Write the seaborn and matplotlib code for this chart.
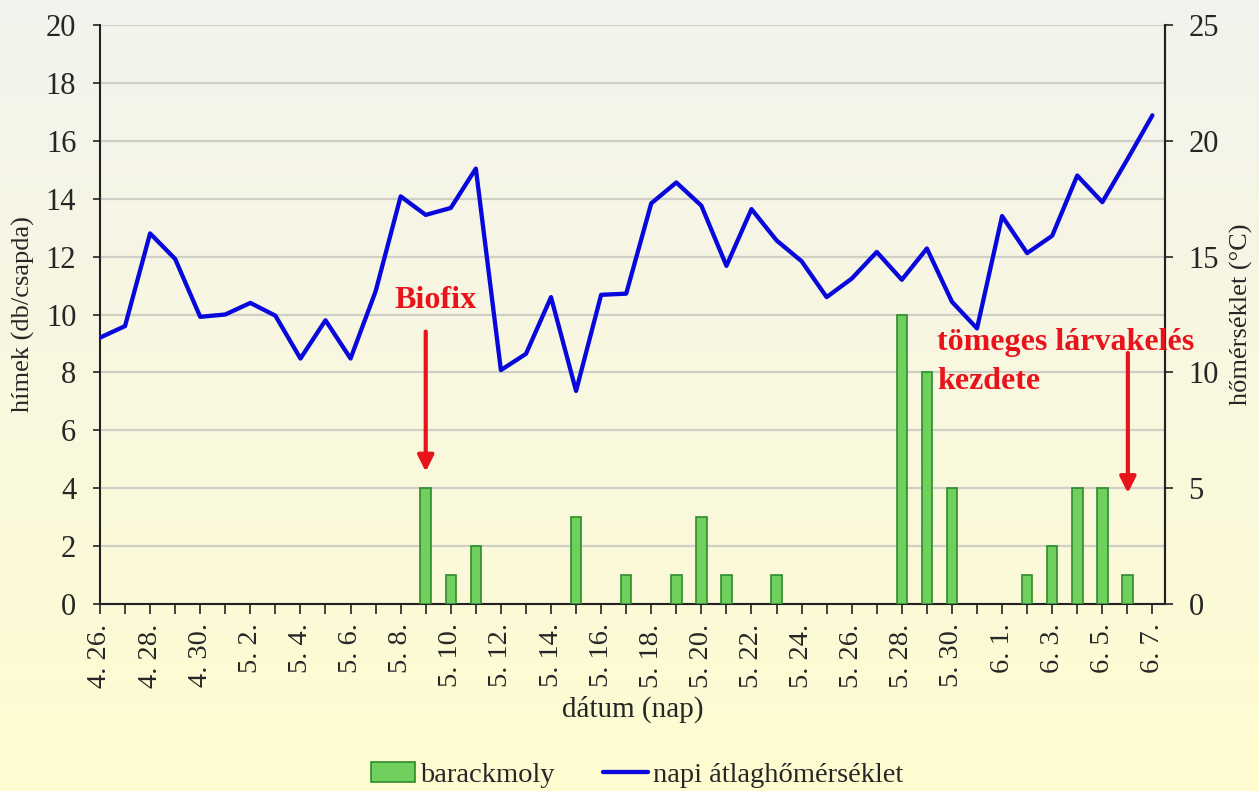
import numpy as np
import pandas as pd
import matplotlib
matplotlib.use("Agg")
import matplotlib.pyplot as plt
from matplotlib.patches import Patch
from matplotlib.lines import Line2D
import seaborn as sns

# ---- data ----
dates = pd.date_range("2009-04-26", "2009-06-07", freq="D")
date_labels = [f"{d.month}. {d.day}." for d in dates]

males = [0, 0, 0, 0, 0, 0, 0, 0, 0, 0,
         0, 0, 0, 4, 1, 2, 0, 0, 0, 3,
         0, 1, 0, 1, 3, 1, 0, 1, 0, 0,
         0, 0, 10, 8, 4, 0, 0, 1, 2, 4,
         4, 1, 0]

temperature = [11.5, 12.0, 16.0, 14.9, 12.4, 12.5, 13.0, 12.45, 10.6, 12.25,
               10.6, 13.5, 17.6, 16.8, 17.1, 18.8, 10.1, 10.8, 13.25, 9.2,
               13.35, 13.4, 17.3, 18.2, 17.2, 14.6, 17.05, 15.7, 14.8, 13.25,
               14.05, 15.2, 14.0, 15.35, 13.05, 11.9, 16.75, 15.15, 15.9, 18.5,
               17.35, 19.2, 21.1]

df = pd.DataFrame({"datum": date_labels, "himek": males, "homerseklet": temperature})
df["pos"] = np.arange(len(df))

# ---- style ----
sns.set_style("ticks")
plt.rcParams["font.family"] = ["Liberation Serif", "DejaVu Serif"]
plt.rcParams["axes.unicode_minus"] = False

fig = plt.figure(figsize=(12.59, 7.91), dpi=100)

# background gradient
bg = fig.add_axes([0, 0, 1, 1], zorder=-10)
top = np.array([243, 243, 238]) / 255
bot = np.array([255, 252, 208]) / 255
t = np.linspace(0, 1, 256)[:, None]
grad = (top[None, :] * (1 - t) + bot[None, :] * t)[:, None, :]
bg.imshow(grad, aspect="auto", extent=[0, 1, 0, 1], origin="upper")
bg.set_axis_off()

ax = fig.add_axes([0.0794, 0.2364, 0.8459, 0.7320])
ax.patch.set_alpha(0)

bar_green = "#6fd05e"
edge_green = "#2e8b2e"
line_blue = "#0808dc"
red = "#e8141c"

sns.barplot(data=df, x="datum", y="himek", ax=ax, color=bar_green,
            width=0.42, edgecolor=edge_green, linewidth=1.2, saturation=1,
            order=date_labels, zorder=3)
for p in ax.patches:
    if p.get_height() == 0:
        p.set_visible(False)

ax.set_ylim(0, 20)
ax.set_yticks(np.arange(0, 21, 2))
ax.grid(axis="y", color="#cfcfc6", linewidth=1.6, zorder=0)
ax.set_axisbelow(True)
ax.set_xlim(0, 42.5)
ax.set_xticks(np.arange(0, 43, 2))
ax.set_xticklabels([date_labels[i] for i in range(0, 43, 2)], rotation=90,
                   fontsize=20.5)
ax.set_xticks(np.arange(1, 43, 2), minor=True)
ax.tick_params(axis="x", which="both", direction="out", length=7, width=1.3,
               color="#333333", pad=7)
ax.tick_params(axis="y", direction="out", length=5, width=1.3,
               color="#333333", labelsize=22, pad=12)
for s in ["left", "bottom", "right", "top"]:
    ax.spines[s].set_color("#222222")
    ax.spines[s].set_linewidth(1.5)
ax.spines["top"].set_visible(False)
ax.set_xlabel("dátum (nap)", fontsize=21, labelpad=6)
ax.set_ylabel("hímek (db/csapda)", fontsize=19, labelpad=8)

ax2 = ax.twinx()
ax2.patch.set_alpha(0)
sns.lineplot(data=df, x="pos", y="homerseklet", ax=ax2, color=line_blue,
             linewidth=3.1, zorder=5)
ax2.set_ylim(0, 25)
ax2.set_yticks(np.arange(0, 26, 5))
ax2.set_xlim(0, 42.5)
ax2.tick_params(axis="y", direction="out", length=6, width=1.3,
                color="#333333", labelsize=22, pad=11)
ax2.spines["right"].set_color("#222222")
ax2.spines["right"].set_linewidth(1.5)
ax2.spines["top"].set_visible(False)
ax2.spines["left"].set_visible(False)
ax2.spines["bottom"].set_visible(False)
ax2.set_ylabel("hőmérséklet (°C)", fontsize=19, labelpad=8)
ax2.set_xlabel("")

# annotations (left-axis values converted to the right-axis scale)
k = 25 / 20
ax2.annotate("", xy=(13, 4.57 * k), xytext=(13, 9.41 * k),
             arrowprops=dict(arrowstyle="-|>", color=red, lw=3,
                             mutation_scale=24, shrinkA=0, shrinkB=0))
ax2.text(13.4, 10.5 * k, "Biofix", color=red, fontsize=23,
         fontweight="bold", ha="center", va="center")
ax2.annotate("", xy=(41.02, 3.83 * k), xytext=(41.02, 8.67 * k),
             arrowprops=dict(arrowstyle="-|>", color=red, lw=3,
                             mutation_scale=24, shrinkA=0, shrinkB=0))
ax2.text(33.4, 9.02 * k, "tömeges lárvakelés", color=red, fontsize=23,
         fontweight="bold", ha="left", va="center")
ax2.text(33.4, 7.7 * k, "kezdete", color=red, fontsize=23,
         fontweight="bold", ha="left", va="center")

handles = [Patch(facecolor=bar_green, edgecolor=edge_green, linewidth=1.2),
           Line2D([0], [0], color=line_blue, linewidth=3.1)]
fig.legend(handles, ["barackmoly", "napi átlaghőmérséklet"], loc="center",
           bbox_to_anchor=(0.506, 0.02), ncol=2, frameon=False, fontsize=20.5,
           handlelength=1.55, handletextpad=0.2, columnspacing=1.7)

fig.savefig("out.png", dpi=100)
